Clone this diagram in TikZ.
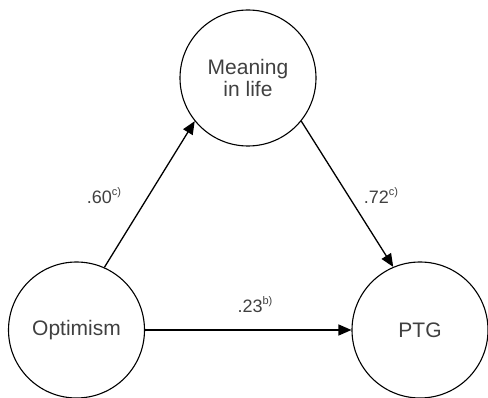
\documentclass[tikz,border=0pt]{standalone}
\usepackage{fontspec}
\setmainfont{Liberation Sans}
\usetikzlibrary{arrows.meta}
\begin{document}
\begin{tikzpicture}[x=1pt,y=-1pt,
  var/.style={draw, circle, line width=1.1pt, minimum size=136pt, inner sep=0pt, align=center,
    font=\fontsize{21}{24}\selectfont, text=black!75},
  path/.style={line width=1.3pt, -{Triangle[length=13pt,width=11pt]}},
  coef/.style={font=\fontsize{18}{21}\selectfont, text=black!75, inner sep=0pt}]
\useasboundingbox (0,0) rectangle (488,398);
\node[var] (mean) at (248,78) {Meaning\\[-2pt]in life};
\node[var] (opt) at (76.5,330) {Optimism};
\node[var] (ptg) at (420,330) {PTG};
\draw[path] (opt.66) -- (mean.219);
\draw[path] (mean.321) -- (ptg.113);
\draw[path] (opt.east) -- (ptg.west);
\node[coef] (l1) at (104,196) {.60\raisebox{8pt}{\fontsize{11}{13}\selectfont c)}};
\node[coef] (l2) at (381,196) {.72\raisebox{8pt}{\fontsize{11}{13}\selectfont c)}};
\node[coef] (l3) at (255,305) {.23\raisebox{8pt}{\fontsize{11}{13}\selectfont b)}};
\end{tikzpicture}
\end{document}
